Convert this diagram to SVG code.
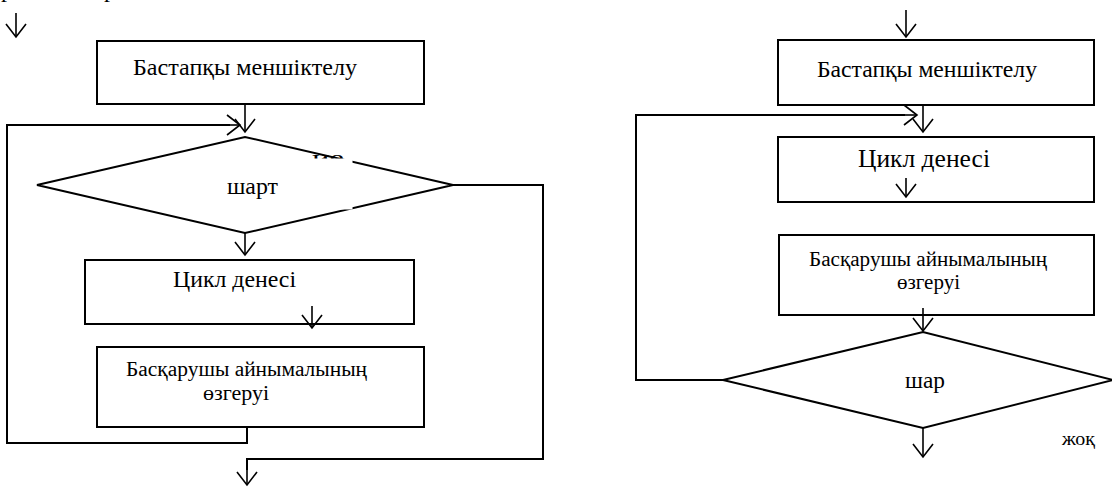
<svg xmlns="http://www.w3.org/2000/svg" width="1112" height="487" viewBox="0 0 1112 487">
<style>
.box{fill:#fff;stroke:#000;stroke-width:2}
.dia{fill:#fff;stroke:#000;stroke-width:2}
.ln{fill:none;stroke:#000;stroke-width:2}
.ar{fill:none;stroke:#000;stroke-width:1.6;marker-end:url(#ah)}
text{font-family:'Liberation Serif','Times New Roman',serif;fill:#000}
</style>
<defs>
<marker id="ah" markerUnits="userSpaceOnUse" markerWidth="30" markerHeight="30" viewBox="-15 -15 30 30" refX="0" refY="0" orient="auto" overflow="visible">
<path d="M-13,-10 L0,0 L-13,10" fill="none" stroke="#000" stroke-width="1.6"/>
</marker>
</defs>
<rect width="1112" height="487" fill="#fff"/>
<g id="top-fragments">
<text x="1" y="-3" font-size="24">р</text>
<text x="104" y="-3" font-size="24">р</text>
</g>
<g id="L-init"><rect class="box" x="97" y="41" width="327" height="63"/><text x="133" y="75" font-size="23" textLength="224" lengthAdjust="spacingAndGlyphs">Бастапқы меншіктелу</text></g>
<g id="L-cond"><polygon class="dia" points="37,185 245,137 453,185 245,233"/><text x="227" y="194" font-size="23" textLength="51" lengthAdjust="spacingAndGlyphs">шарт</text></g>
<g id="L-body"><rect class="box" x="85" y="260" width="329" height="64"/><text x="173" y="287" font-size="24" textLength="123" lengthAdjust="spacingAndGlyphs">Цикл денесі</text></g>
<g id="L-update"><rect class="box" x="97" y="347" width="327" height="80"/><text x="126" y="376" font-size="20" textLength="241" lengthAdjust="spacingAndGlyphs">Басқарушы айнымалының</text><text x="203" y="400" font-size="20" textLength="66" lengthAdjust="spacingAndGlyphs">өзгеруі</text></g>
<g id="R-init"><rect class="box" x="778" y="40" width="316" height="65"/><text x="817" y="77" font-size="23" textLength="220" lengthAdjust="spacingAndGlyphs">Бастапқы меншіктелу</text></g>
<g id="R-body"><rect class="box" x="778" y="137" width="316" height="65"/><text x="858" y="167" font-size="25" textLength="132" lengthAdjust="spacingAndGlyphs">Цикл денесі</text></g>
<g id="R-update"><rect class="box" x="779" y="235" width="315" height="80"/><text x="809" y="266" font-size="20" textLength="238" lengthAdjust="spacingAndGlyphs">Басқарушы айнымалының</text><text x="897" y="289" font-size="20" textLength="63" lengthAdjust="spacingAndGlyphs">өзгеруі</text></g>
<g id="R-cond"><polygon class="dia" points="723,380 923,332 1113,380 923,428"/><text x="905" y="388" font-size="23" textLength="40" lengthAdjust="spacingAndGlyphs">шар</text></g>
<g id="connectors">
<path class="ar" d="M16,13 V37"/>
<path class="ar" d="M245,104 V132"/>
<path class="ln" d="M247,427 V443 H7 V125 H230"/>
<path class="ar" d="M229,125 H240"/>
<path class="ar" d="M245,233 V255"/>
<path class="ar" d="M312,306 V328"/>
<path class="ln" d="M453,185 H543 V459 H247 V470"/>
<path class="ar" d="M247,465 V485"/>
<path class="ar" d="M906,10 V37"/>
<path class="ar" d="M923,105 V132"/>
<path class="ln" d="M723,380 H636 V115 H905"/>
<path class="ar" d="M904,115 H917"/>
<path class="ar" d="M906,178 V197"/>
<path class="ar" d="M923,308 V331"/>
<path class="ar" d="M923,428 V457"/>
</g>
<g id="label-yes">
<text x="312" y="165" font-size="22" textLength="32" lengthAdjust="spacingAndGlyphs">ие</text>
<rect x="285" y="158.5" width="67.5" height="51" fill="#fff"/>
</g>
<g id="label-no"><text x="1062" y="445" font-size="19" textLength="33" lengthAdjust="spacingAndGlyphs">жоқ</text></g>
</svg>
